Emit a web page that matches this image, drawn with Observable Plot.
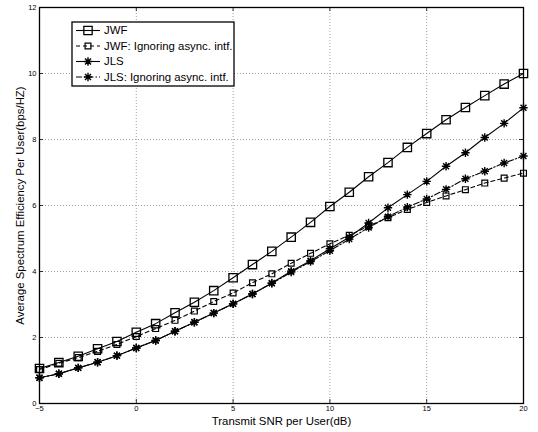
<!DOCTYPE html>
<html>
<head>
<meta charset="utf-8">
<script src="https://cdn.jsdelivr.net/npm/d3@7"></script>
<script src="https://cdn.jsdelivr.net/npm/@observablehq/plot@0.6"></script>
<style>
  html, body { margin: 0; padding: 0; background: #fff; }
  #chart { width: 538px; height: 432px; }
</style>
</head>
<body>
<div id="chart"></div>
<script>
// ---- data ----
const snr = [-5, -4, -3, -2, -1, 0, 1, 2, 3, 4, 5, 6, 7, 8, 9, 10, 11, 12, 13, 14, 15, 16, 17, 18, 19, 20];
const jwf = [1.06, 1.24, 1.43, 1.66, 1.88, 2.16, 2.42, 2.75, 3.07, 3.42, 3.81, 4.21, 4.61, 5.04, 5.49, 5.97, 6.40, 6.87, 7.30, 7.76, 8.18, 8.60, 8.97, 9.33, 9.68, 10.0];
const jwfIgn = [1.03, 1.22, 1.39, 1.58, 1.79, 2.03, 2.27, 2.52, 2.80, 3.09, 3.35, 3.66, 3.93, 4.25, 4.55, 4.84, 5.10, 5.38, 5.63, 5.88, 6.09, 6.29, 6.48, 6.68, 6.83, 6.98];
const jls = [0.78, 0.90, 1.08, 1.25, 1.45, 1.68, 1.91, 2.19, 2.46, 2.74, 3.02, 3.32, 3.65, 4.01, 4.33, 4.69, 5.04, 5.47, 5.93, 6.33, 6.73, 7.19, 7.60, 8.06, 8.49, 8.96];
const jlsIgn = [0.78, 0.90, 1.08, 1.25, 1.45, 1.68, 1.91, 2.19, 2.46, 2.74, 3.02, 3.32, 3.64, 3.98, 4.30, 4.63, 4.98, 5.33, 5.66, 5.95, 6.20, 6.49, 6.81, 7.04, 7.29, 7.50];
const seriesNames = ["JWF", "JWF: Ignoring async. intf.", "JLS", "JLS: Ignoring async. intf."];
const xTicks = [-5, 0, 5, 10, 15, 20];
const yTicks = [0, 2, 4, 6, 8, 10, 12];
const xGrid = [0, 5, 10, 15];
const yGrid = [2, 4, 6, 8, 10];
const xLabel = "Transmit SNR per User(dB)";
const yLabel = "Average Spectrum Efficiency Per User(bps/HZ)";

// ---- styles ----
const star8 = {
  draw(context, size) {
    const r = Math.sqrt(size / Math.PI);
    for (let k = 0; k < 4; k++) {
      const a = k * Math.PI / 4;
      context.moveTo(r * Math.cos(a), r * Math.sin(a));
      context.lineTo(-r * Math.cos(a), -r * Math.sin(a));
    }
  }
};
const styles = [
  {dash: null, symbol: "square", r: 4.7, sw: 1.3},
  {dash: "4,3", symbol: "square", r: 3.3, sw: 1.2},
  {dash: null, symbol: star8, r: 4.2, sw: 1.4},
  {dash: "6,2,1.5,2", symbol: star8, r: 4.2, sw: 1.4}
];
const values = [jwf, jwfIgn, jls, jlsIgn];
const rowsBySeries = values.map((vals, i) => snr.map((x, j) => ({x, y: vals[j], series: seriesNames[i]})));

const W = 538, H = 432, mL = 39, mR = 15, mT = 7, mB = 29;
const fw = W - mL - mR, fh = H - mT - mB;
const tick = 4;

const marks = [
  Plot.gridX(xGrid, {stroke: "#888", strokeOpacity: 1, strokeDasharray: "1,2", strokeWidth: 0.8}),
  Plot.gridY(yGrid, {stroke: "#888", strokeOpacity: 1, strokeDasharray: "1,2", strokeWidth: 0.8}),
  Plot.ruleX(xTicks, {insetTop: fh - tick, stroke: "black", strokeWidth: 0.8}),
  Plot.ruleX(xTicks, {insetBottom: fh - tick, stroke: "black", strokeWidth: 0.8}),
  Plot.ruleY(yTicks, {insetRight: fw - tick, stroke: "black", strokeWidth: 0.8}),
  Plot.ruleY(yTicks, {insetLeft: fw - tick, stroke: "black", strokeWidth: 0.8}),
  Plot.axisX(xTicks, {tickSize: 0, tickPadding: 2, fontSize: 7.5, label: null}),
  Plot.axisY(yTicks, {tickSize: 0, tickPadding: 3, fontSize: 7.5, label: null}),
  Plot.text([xLabel], {frameAnchor: "bottom", dy: 18, lineAnchor: "middle", textAnchor: "middle", fontSize: 11.4}),
  Plot.text([yLabel], {frameAnchor: "left", dx: -19, rotate: -90, lineAnchor: "middle", textAnchor: "middle", fontSize: 11.4})
];
rowsBySeries.forEach((rows, i) => {
  const s = styles[i];
  marks.push(Plot.line(rows, {x: "x", y: "y", stroke: "black", strokeWidth: 1.1, strokeDasharray: s.dash}));
  marks.push(Plot.dot(rows, {x: "x", y: "y", symbol: () => s.symbol, r: s.r, stroke: "black", strokeWidth: s.sw, fill: "none"}));
});
marks.push(Plot.frame({stroke: "black", strokeWidth: 1.3}));

const chart = Plot.plot({
  width: W, height: H,
  marginLeft: mL, marginRight: mR, marginTop: mT, marginBottom: mB,
  x: {domain: [-5, 20]},
  y: {domain: [0, 12]},
  symbol: {type: "identity"},
  style: {fontFamily: "'Liberation Sans', Arial, Helvetica, sans-serif", background: "white", color: "black"},
  marks
});
document.getElementById("chart").appendChild(chart);

// ---- legend (inside plot, upper left) ----
const svg = d3.select(chart);
const lg = svg.append("g").attr("font-family", "'Liberation Sans', Arial, sans-serif").attr("font-size", 11.4).attr("text-anchor", "start");
const lx = 72, ly = 22, lw = 162, lh = 64;
lg.append("rect").attr("x", lx).attr("y", ly).attr("width", lw).attr("height", lh)
  .attr("fill", "white").attr("stroke", "black").attr("stroke-width", 1.3);
const rowY = [30.5, 46, 61.5, 77];
seriesNames.forEach((name, i) => {
  const s = styles[i];
  const y = rowY[i];
  lg.append("line").attr("x1", lx + 4).attr("x2", lx + 28).attr("y1", y).attr("y2", y)
    .attr("stroke", "black").attr("stroke-width", 1.1).attr("stroke-dasharray", s.dash);
  const sym = typeof s.symbol === "string" ? d3.symbolSquare : s.symbol;
  lg.append("path").attr("d", d3.symbol(sym, Math.PI * s.r * s.r)())
    .attr("transform", `translate(${lx + 16},${y})`)
    .attr("fill", "none").attr("stroke", "black").attr("stroke-width", s.sw);
  lg.append("text").attr("x", lx + 32).attr("y", y).attr("dy", "0.35em").attr("text-anchor", "start").text(name);
});
</script>
</body>
</html>
